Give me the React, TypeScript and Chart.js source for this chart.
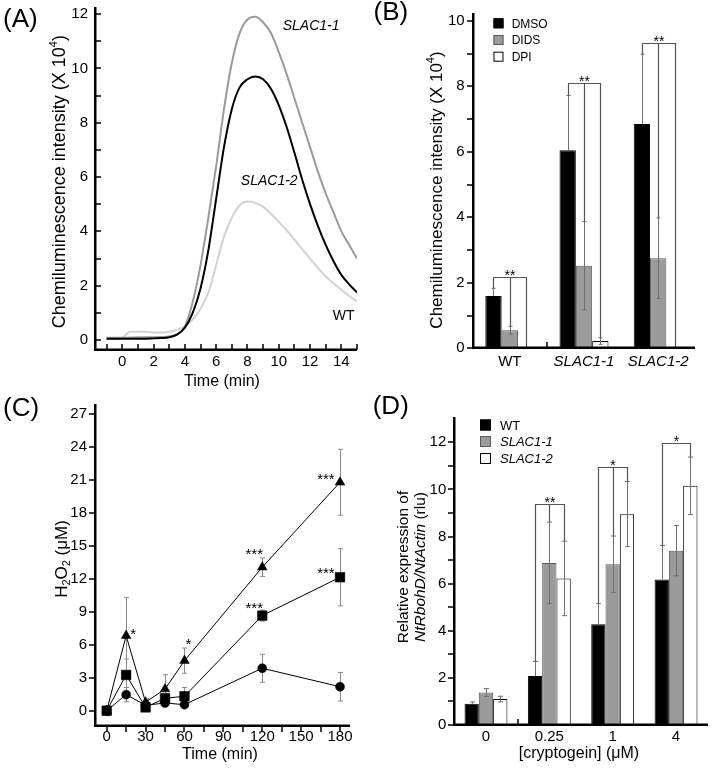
import React, { useEffect, useRef } from 'react';
import { Chart, registerables } from 'chart.js';
Chart.register(...registerables);

const FAMILY = '"Liberation Sans", Arial, Helvetica, sans-serif';
const YW = 40;
const XH = 30;

const PANEL_A = [0, 0, 360, 392];
const PANEL_B = [360, 0, 352, 392];
const PANEL_C = [0, 392, 360, 376];
const PANEL_D = [360, 392, 352, 376];

// ---------- Panel A ----------
const timeMin = [-1, -0.5, 0, 0.5, 1, 1.5, 2, 2.5, 3, 3.5, 4, 4.5, 5, 5.5, 6, 6.5, 7, 7.5, 8, 8.5, 9, 9.5, 10, 10.5, 11, 11.5, 12, 12.5, 13, 13.5, 14, 14.5, 15];
const slac11Curve = [0.08, 0.08, 0.08, 0.09, 0.1, 0.1, 0.1, 0.11, 0.13, 0.22, 0.5, 1.4, 2.75, 4.5, 6.4, 8.5, 10.2, 11.3, 11.8, 11.9, 11.7, 11.3, 10.6, 9.8, 8.9, 8.0, 7.1, 6.2, 5.4, 4.7, 4.0, 3.5, 3.0];
const slac12Curve = [0.05, 0.05, 0.05, 0.05, 0.05, 0.05, 0.06, 0.07, 0.1, 0.2, 0.45, 1.0, 1.9, 3.3, 5.2, 7.1, 8.5, 9.3, 9.6, 9.7, 9.6, 9.25, 8.65, 7.85, 6.9, 5.9, 5.0, 4.2, 3.5, 2.9, 2.4, 2.05, 1.75];
const wtCurve = [0.05, 0.05, 0.08, 0.3, 0.3, 0.3, 0.28, 0.28, 0.3, 0.38, 0.5, 0.75, 1.15, 1.75, 2.75, 3.8, 4.5, 4.95, 5.1, 5.05, 4.9, 4.65, 4.35, 4.05, 3.7, 3.35, 3.0, 2.65, 2.35, 2.08, 1.85, 1.62, 1.42];
const aCurveLabels = ['SLAC1-1', 'SLAC1-2', 'WT'];
const aCurveLabelX = [12.07, 9.39, 14.15];
const aCurveLabelY = [11.6, 5.89, 0.92];
const aXLabelTicks = [0, 2, 4, 6, 8, 10, 12, 14];
const aXTickMarks = [-1, 0, 1, 2, 3, 4, 5, 6, 7, 8, 9, 10, 11, 12, 13, 14, 15];
const aYLabelTicks = [0, 2, 4, 6, 8, 10, 12];
const aYTickMarks = [0, 1, 2, 3, 4, 5, 6, 7, 8, 9, 10, 11, 12];

// ---------- Panel B ----------
const bCategories = ['WT', 'SLAC1-1', 'SLAC1-2'];
const bDMSO = [1.6, 6.05, 6.85];
const bDMSOErr = [0.23, 1.67, 2.13];
const bDIDS = [0.55, 2.52, 2.75];
const bDIDSErr = [0.12, 1.35, 1.23];
const bDPI = [0, 0.22, 0];
const bDPIErr = [0, 0.1, 0];
const bBracketGroups = [0, 1, 2];
const bBracketHeights = [2.18, 8.09, 9.31];
const bBracketStars = ['**', '**', '**'];
const bYLabelTicks = [0, 2, 4, 6, 8, 10];
const bYTickMarks = [0, 1, 2, 3, 4, 5, 6, 7, 8, 9, 10];

// ---------- Panel C ----------
const h2o2Time = [0, 15, 30, 45, 60, 120, 180];
const h2o2Triangle = [0, 6.83, 0.77, 1.97, 4.55, 13.05, 20.78];
const h2o2TriangleErr = [0.3, 3.45, 0.3, 1.3, 1.15, 0.85, 3.0];
const h2o2Square = [0, 3.25, 0.3, 1.13, 1.31, 8.65, 12.14];
const h2o2SquareErr = [0.3, 1.45, 0.3, 0.4, 0.8, 0.5, 2.6];
const h2o2Circle = [0, 1.46, 0.5, 0.7, 0.55, 3.86, 2.18];
const h2o2CircleErr = [0.45, 0.65, 0.3, 0.3, 0.2, 1.27, 1.3];
const cStarText = ['*', '*', '***', '***', '***', '***'];
const cStarX = [20.5, 63, 113.8, 113.8, 169.1, 169.1];
const cStarY = [7.3, 6.4, 14.56, 9.71, 21.38, 12.9];
const cXLabelTicks = [0, 30, 60, 90, 120, 150, 180];
const cXTickMarks = [0, 15, 30, 45, 60, 75, 90, 105, 120, 135, 150, 165, 180];
const cYLabelTicks = [0, 3, 6, 9, 12, 15, 18, 21, 24, 27];

// ---------- Panel D ----------
const dCategories = ['0', '0.25', '1', '4'];
const dWT = [0.9, 2.08, 4.28, 6.18];
const dWTErr = [0.08, 0.62, 0.87, 1.44];
const dSLAC11 = [1.38, 6.88, 6.82, 7.4];
const dSLAC11Err = [0.17, 1.73, 1.2, 1.07];
const dSLAC12 = [1.1, 6.22, 8.95, 10.15];
const dSLAC12Err = [0.12, 1.58, 1.38, 1.22];
const dBracketGroups = [1, 2, 3];
const dBracketHeights = [9.4, 10.95, 11.95];
const dBracketStars = ['**', '*', '*'];
const dBracketMiddle = [true, true, false];
const dYLabelTicks = [0, 2, 4, 6, 8, 10, 12];
const dYTickMarks = [0, 1, 2, 3, 4, 5, 6, 7, 8, 9, 10, 11, 12];

// ---------- helpers ----------
type Seg = { t: string; size: number; italic?: boolean; dy?: number };

function fontStr(size: number, italic?: boolean) {
  return `${italic ? 'italic ' : ''}${size}px ${FAMILY}`;
}

function richText(ctx: CanvasRenderingContext2D, segs: Seg[], cx: number, cy: number, rotated: boolean, baseSize: number) {
  ctx.save();
  ctx.translate(cx, cy);
  if (rotated) ctx.rotate(-Math.PI / 2);
  ctx.fillStyle = '#000';
  ctx.textAlign = 'left';
  ctx.textBaseline = 'alphabetic';
  let total = 0;
  const ws = segs.map((s) => {
    ctx.font = fontStr(s.size, s.italic);
    const w = ctx.measureText(s.t).width;
    total += w;
    return w;
  });
  let x = -total / 2;
  const base = baseSize * 0.36;
  segs.forEach((s, i) => {
    ctx.font = fontStr(s.size, s.italic);
    ctx.fillText(s.t, x, base + (s.dy || 0));
    x += ws[i];
  });
  ctx.restore();
}

function panelLetter(ctx: CanvasRenderingContext2D, text: string, x: number, baseline: number) {
  ctx.save();
  ctx.fillStyle = '#000';
  ctx.font = fontStr(26);
  ctx.textAlign = 'left';
  ctx.textBaseline = 'alphabetic';
  ctx.fillText(text, x, baseline);
  ctx.restore();
}

function pageSpace(chart: any, panel: number[], fn: (ctx: CanvasRenderingContext2D) => void) {
  const ctx: CanvasRenderingContext2D = chart.ctx;
  ctx.save();
  ctx.translate(-panel[0], -panel[1]);
  fn(ctx);
  ctx.restore();
}

// axis lines: drawn last, fully opaque, straddling the chart-area edges
function axisLines(chart: any) {
  const a = chart.chartArea;
  const ctx: CanvasRenderingContext2D = chart.ctx;
  ctx.save();
  ctx.setTransform(1, 0, 0, 1, 0, 0);
  ctx.globalAlpha = 1;
  ctx.globalCompositeOperation = 'source-over';
  ctx.shadowColor = 'rgba(0,0,0,0)';
  ctx.filter = 'none';
  ctx.fillStyle = 'rgb(0,0,0)';
  const L = Math.round(a.left);
  const R = Math.round(a.right);
  const T = Math.round(a.top);
  const B = Math.round(a.bottom);
  ctx.fillRect(L - 1, T, 2.5, B - T + 1);
  ctx.fillRect(L - 1, B - 1.5, R - L + 1, 2.5);
  ctx.strokeStyle = 'rgb(0,0,0)';
  ctx.lineWidth = 2;
  ctx.setLineDash([]);
  ctx.beginPath();
  ctx.moveTo(L, T);
  ctx.lineTo(L, B);
  ctx.lineTo(R, B);
  ctx.stroke();
  ctx.restore();
}

function tickMarks(chart: any, axis: 'x' | 'y', values: number[], dir: 'in' | 'out', len = 6) {
  const scale = chart.scales[axis];
  const a = chart.chartArea;
  const ctx: CanvasRenderingContext2D = chart.ctx;
  ctx.save();
  ctx.fillStyle = '#000';
  values.forEach((v) => {
    const p = Math.round(scale.getPixelForValue(v));
    if (axis === 'x') {
      const y0 = Math.round(a.bottom);
      if (dir === 'in') ctx.fillRect(p - 0.75, y0 - len, 1.5, len);
      else ctx.fillRect(p - 0.75, y0, 1.5, len);
    } else {
      const x0 = Math.round(a.left);
      if (dir === 'in') ctx.fillRect(x0, p - 0.75, len, 1.5);
      else ctx.fillRect(x0 - len, p - 0.75, len, 1.5);
    }
  });
  ctx.restore();
}

function categoryBoundaryTick(chart: any, i: number, len = 6) {
  const scale = chart.scales.x;
  const a = chart.chartArea;
  const ctx: CanvasRenderingContext2D = chart.ctx;
  const p = Math.round((scale.getPixelForValue(i) + scale.getPixelForValue(i + 1)) / 2);
  ctx.save();
  ctx.fillStyle = '#000';
  ctx.fillRect(p - 0.75, Math.round(a.bottom) - len, 1.5, len);
  ctx.restore();
}

function barErrors(chart: any, errs: number[][], lowerVisible: boolean[], cap: number) {
  const y = chart.scales.y;
  const ctx: CanvasRenderingContext2D = chart.ctx;
  ctx.save();
  ctx.strokeStyle = '#707070';
  ctx.lineWidth = 1;
  errs.forEach((errArr, di) => {
    const ds = chart.data.datasets[di];
    const meta = chart.getDatasetMeta(di);
    meta.data.forEach((bar: any, i: number) => {
      const v = ds.data[i] as number;
      const e = errArr[i];
      if (!e) return;
      const x = Math.round(bar.x) + 0.5;
      const yt = y.getPixelForValue(v + e);
      const yb = lowerVisible[di] ? y.getPixelForValue(v - e) : y.getPixelForValue(v);
      ctx.beginPath();
      ctx.moveTo(x, yt);
      ctx.lineTo(x, yb);
      ctx.moveTo(x - cap, yt);
      ctx.lineTo(x + cap, yt);
      if (lowerVisible[di]) {
        ctx.moveTo(x - cap, yb);
        ctx.lineTo(x + cap, yb);
      }
      ctx.stroke();
    });
  });
  ctx.restore();
}

function brackets(chart: any, errs: number[][], groups: number[], heights: number[], stars: string[], middle: boolean[]) {
  const y = chart.scales.y;
  const ctx: CanvasRenderingContext2D = chart.ctx;
  ctx.save();
  ctx.strokeStyle = '#555';
  ctx.lineWidth = 1.2;
  groups.forEach((g, k) => {
    const yb = Math.round(y.getPixelForValue(heights[k])) + 0.5;
    const xs: number[] = [];
    const froms: number[] = [];
    [0, 1, 2].forEach((di) => {
      const meta = chart.getDatasetMeta(di);
      const bar = meta.data[g];
      xs.push(Math.round(bar.x) + 0.5);
      const v = chart.data.datasets[di].data[g] as number;
      froms.push(y.getPixelForValue(v + errs[di][g]));
    });
    ctx.beginPath();
    ctx.moveTo(xs[0], froms[0]);
    ctx.lineTo(xs[0], yb);
    ctx.lineTo(xs[2], yb);
    ctx.lineTo(xs[2], froms[2]);
    if (middle[k]) {
      ctx.moveTo(xs[1], yb);
      ctx.lineTo(xs[1], froms[1]);
    }
    ctx.stroke();
    ctx.fillStyle = '#000';
    ctx.font = fontStr(14);
    ctx.textAlign = 'center';
    ctx.textBaseline = 'alphabetic';
    ctx.fillText(stars[k], (xs[0] + xs[2]) / 2, yb + 2.5);
  });
  ctx.restore();
}

function legendBoxes(ctx: CanvasRenderingContext2D, chart: any, x: number, ys: number[], box: number, textX: number, size: number, italics: boolean[]) {
  ctx.save();
  ys.forEach((cy, i) => {
    const ds = chart.data.datasets[i];
    ctx.fillStyle = ds.backgroundColor;
    ctx.fillRect(x, cy - box / 2, box, box);
    ctx.strokeStyle = ds.borderColor;
    ctx.lineWidth = 1;
    ctx.strokeRect(x + 0.5, cy - box / 2 + 0.5, box - 1, box - 1);
    ctx.fillStyle = '#000';
    ctx.font = fontStr(size, italics[i]);
    ctx.textAlign = 'left';
    ctx.textBaseline = 'alphabetic';
    ctx.fillText(ds.label, textX, cy + size * 0.36);
  });
  ctx.restore();
}

function pad(panel: number[], L: number, R: number, T: number, B: number) {
  const [ox, oy, w, h] = panel;
  return { left: L - ox - YW, right: ox + w - R, top: T - oy, bottom: oy + h - B - XH };
}

function fixX(s: any) {
  s.height = XH;
  s.paddingLeft = 0; s.paddingRight = 0; s.paddingTop = 0; s.paddingBottom = 0;
}
function fixY(s: any) {
  s.width = YW;
  s.paddingLeft = 0; s.paddingRight = 0; s.paddingTop = 0; s.paddingBottom = 0;
}
function setTicks(vals: number[]) {
  return (s: any) => {
    s.ticks = vals.map((v) => ({ value: v }));
  };
}

function tickFont() {
  return { family: FAMILY, size: 15 };
}
function gridCfg() {
  return { display: false, drawTicks: false, tickLength: 0 };
}

function linearAxis(min: number, max: number, labels: number[], horizontal: boolean, padding: number) {
  return {
    type: 'linear',
    min,
    max,
    afterBuildTicks: setTicks(labels),
    afterFit: horizontal ? fixX : fixY,
    grid: gridCfg(),
    border: { display: false },
    ticks: { padding, font: tickFont(), color: '#000', autoSkip: false, maxRotation: 0, minRotation: 0 },
  };
}

function baseOpts() {
  return {
    animation: false,
    responsive: false,
    maintainAspectRatio: false,
    events: [],
    plugins: { legend: { display: false }, tooltip: { enabled: false } },
  };
}

// ---------- configs ----------
function configA(): any {
  const mk = (label: string, vals: number[], color: string) => ({
    label,
    data: timeMin.map((x, i) => ({ x, y: vals[i] })),
    borderColor: color,
    borderWidth: 2,
    pointRadius: 0,
    cubicInterpolationMode: 'monotone',
    fill: false,
  });
  return {
    type: 'line',
    data: {
      datasets: [mk('SLAC1-2', slac12Curve, '#000000'), mk('SLAC1-1', slac11Curve, '#9a9a9a'), mk('WT', wtCurve, '#d2d2d2')],
    },
    options: {
      ...baseOpts(),
      layout: { padding: pad(PANEL_A, 95, 357, 7, 350) },
      scales: {
        x: linearAxis(-1.742, 15, aXLabelTicks, true, 3),
        y: linearAxis(-0.368, 12.26, aYLabelTicks, false, 7),
      },
    },
    plugins: [
      {
        id: 'panelA',
        afterDraw(chart: any) {
          const ctx = chart.ctx as CanvasRenderingContext2D;
          const xs = chart.scales.x;
          const ys = chart.scales.y;
          aCurveLabels.forEach((t, i) => {
            ctx.save();
            ctx.fillStyle = '#000';
            ctx.font = fontStr(14, t !== 'WT');
            ctx.textAlign = 'center';
            ctx.textBaseline = 'alphabetic';
            ctx.fillText(t, xs.getPixelForValue(aCurveLabelX[i]), ys.getPixelForValue(aCurveLabelY[i]) + 5);
            ctx.restore();
          });
          pageSpace(chart, PANEL_A, (c) => {
            richText(c, [{ t: 'Chemiluminescence intensity (X 10', size: 18 }, { t: '4', size: 11, dy: -8 }, { t: ')', size: 18 }], 58.3, 181.7, true, 18);
            richText(c, [{ t: 'Time (min)', size: 16 }], 222, 380, false, 16);
            panelLetter(c, '(A)', 3, 26.5);
          });
          tickMarks(chart, 'x', aXTickMarks, 'in');
          tickMarks(chart, 'y', aYTickMarks, 'in');
          axisLines(chart);
        },
      },
    ],
  };
}

function configB(): any {
  const errs = [bDMSOErr, bDIDSErr, bDPIErr];
  return {
    type: 'bar',
    data: {
      labels: bCategories,
      datasets: [
        { label: 'DMSO', data: bDMSO, backgroundColor: '#000000', borderColor: '#000000', borderWidth: 1 },
        { label: 'DIDS', data: bDIDS, backgroundColor: '#9b9b9b', borderColor: '#5a5a5a', borderWidth: 1 },
        { label: 'DPI', data: bDPI, backgroundColor: '#ffffff', borderColor: '#000000', borderWidth: 1 },
      ],
    },
    options: {
      ...baseOpts(),
      categoryPercentage: 0.66,
      barPercentage: 1,
      layout: { padding: pad(PANEL_B, 472.7, 695.3, 13.3, 348.3) },
      scales: {
        x: {
          type: 'category',
          offset: true,
          afterFit: fixX,
          grid: gridCfg(),
          border: { display: false },
          ticks: {
            padding: 5,
            color: '#000',
            autoSkip: false,
            maxRotation: 0,
            font: (c: any) => ({ family: FAMILY, size: 15, style: String(bCategories[c.index] || '').startsWith('SLAC') ? 'italic' : 'normal' }),
          },
        },
        y: linearAxis(0, 10.23, bYLabelTicks, false, 8),
      },
    },
    plugins: [
      {
        id: 'panelB',
        afterDraw(chart: any) {
          barErrors(chart, errs, [false, true, true], 2);
          brackets(chart, errs, bBracketGroups, bBracketHeights, bBracketStars, [true, true, true]);
          pageSpace(chart, PANEL_B, (c) => {
            legendBoxes(c, chart, 493.5, [23.3, 40, 56.7], 10, 511.7, 12, [false, false, false]);
            richText(c, [{ t: 'Chemiluminescence intensity (X 10', size: 17 }, { t: '4', size: 11, dy: -8 }, { t: ')', size: 17 }], 436.3, 190, true, 17);
            panelLetter(c, '(B)', 373.5, 20);
          });
          tickMarks(chart, 'y', bYTickMarks, 'out');
          categoryBoundaryTick(chart, 0);
          axisLines(chart);
        },
      },
    ],
  };
}

function configC(): any {
  const mk = (label: string, vals: number[], style: string, r: number) => ({
    label,
    data: h2o2Time.map((x, i) => ({ x, y: vals[i] })),
    borderColor: '#000',
    borderWidth: 1,
    pointStyle: style,
    pointRadius: r,
    pointBackgroundColor: '#000',
    pointBorderColor: '#000',
    pointBorderWidth: 0.5,
    tension: 0,
    fill: false,
    clip: false,
  });
  const errs = [h2o2CircleErr, h2o2SquareErr, h2o2TriangleErr];
  return {
    type: 'line',
    data: {
      datasets: [mk('circle', h2o2Circle, 'circle', 4.5), mk('square', h2o2Square, 'rect', 6.8), mk('triangle', h2o2Triangle, 'triangle', 5.6)],
    },
    options: {
      ...baseOpts(),
      layout: { padding: pad(PANEL_C, 95, 350, 404, 725.7) },
      scales: {
        x: linearAxis(-9.03, 187.7, cXLabelTicks, true, 2),
        y: linearAxis(-1.365, 27.9, cYLabelTicks, false, 8),
      },
    },
    plugins: [
      {
        id: 'panelC',
        beforeDatasetsDraw(chart: any) {
          const ctx = chart.ctx as CanvasRenderingContext2D;
          const xs = chart.scales.x;
          const ys = chart.scales.y;
          ctx.save();
          ctx.strokeStyle = '#8a8a8a';
          ctx.lineWidth = 1;
          errs.forEach((errArr, di) => {
            const ds = chart.data.datasets[di];
            ds.data.forEach((p: any, i: number) => {
              const e = errArr[i];
              const x = Math.round(xs.getPixelForValue(p.x)) + 0.5;
              const yt = ys.getPixelForValue(p.y + e);
              const yb = ys.getPixelForValue(p.y - e);
              ctx.beginPath();
              ctx.moveTo(x, yt); ctx.lineTo(x, yb);
              ctx.moveTo(x - 2.5, yt); ctx.lineTo(x + 2.5, yt);
              ctx.moveTo(x - 2.5, yb); ctx.lineTo(x + 2.5, yb);
              ctx.stroke();
            });
          });
          ctx.restore();
        },
        afterDraw(chart: any) {
          const ctx = chart.ctx as CanvasRenderingContext2D;
          const xs = chart.scales.x;
          const ys = chart.scales.y;
          ctx.save();
          ctx.fillStyle = '#000';
          ctx.font = fontStr(15);
          ctx.textAlign = 'center';
          ctx.textBaseline = 'alphabetic';
          cStarText.forEach((t, i) => {
            ctx.fillText(t, xs.getPixelForValue(cStarX[i]), ys.getPixelForValue(cStarY[i]) + 8.7);
          });
          ctx.restore();
          pageSpace(chart, PANEL_C, (c) => {
            richText(c, [{ t: 'H', size: 17 }, { t: '2', size: 11, dy: 3 }, { t: 'O', size: 17 }, { t: '2', size: 11, dy: 3 }, { t: ' (μM)', size: 17 }], 61, 559, true, 17);
            richText(c, [{ t: 'Time (min)', size: 16 }], 220, 753, false, 16);
            panelLetter(c, '(C)', 3, 415.5);
          });
          tickMarks(chart, 'x', cXTickMarks, 'out');
          tickMarks(chart, 'y', cYLabelTicks, 'out');
          axisLines(chart);
        },
      },
    ],
  };
}

function configD(): any {
  const errs = [dWTErr, dSLAC11Err, dSLAC12Err];
  return {
    type: 'bar',
    data: {
      labels: dCategories,
      datasets: [
        { label: 'WT', data: dWT, backgroundColor: '#000000', borderColor: '#000000', borderWidth: 1 },
        { label: 'SLAC1-1', data: dSLAC11, backgroundColor: '#9b9b9b', borderColor: '#5a5a5a', borderWidth: 1 },
        { label: 'SLAC1-2', data: dSLAC12, backgroundColor: '#ffffff', borderColor: '#000000', borderWidth: 1 },
      ],
    },
    options: {
      ...baseOpts(),
      categoryPercentage: 0.677,
      barPercentage: 1,
      layout: { padding: pad(PANEL_D, 454.3, 707.7, 417.3, 725) },
      scales: {
        x: {
          type: 'category',
          offset: true,
          afterFit: fixX,
          grid: gridCfg(),
          border: { display: false },
          ticks: { padding: 3, color: '#000', autoSkip: false, maxRotation: 0, font: tickFont() },
        },
        y: linearAxis(0, 13.06, dYLabelTicks, false, 8),
      },
    },
    plugins: [
      {
        id: 'panelD',
        afterDraw(chart: any) {
          barErrors(chart, errs, [false, true, true], 2.5);
          brackets(chart, errs, dBracketGroups, dBracketHeights, dBracketStars, dBracketMiddle);
          pageSpace(chart, PANEL_D, (c) => {
            legendBoxes(c, chart, 480, [425, 441.5, 458.5], 11, 500, 13, [false, true, true]);
            richText(c, [{ t: 'Relative expression of', size: 15.5 }], 402, 567, true, 15.5);
            richText(c, [{ t: 'NtRbohD/NtActin', size: 15.5, italic: true }, { t: ' (rlu)', size: 15.5 }], 419, 567, true, 15.5);
            richText(c, [{ t: '[cryptogein] (μM)', size: 16 }], 579, 752, false, 16);
            panelLetter(c, '(D)', 372.7, 413.5);
          });
          tickMarks(chart, 'y', dYTickMarks, 'out');
          categoryBoundaryTick(chart, 0);
          axisLines(chart);
        },
      },
    ],
  };
}

function Panel({ box, make }: { box: number[]; make: () => any }) {
  const ref = useRef<HTMLCanvasElement>(null);
  useEffect(() => {
    const chart = new Chart(ref.current as HTMLCanvasElement, make());
    return () => chart.destroy();
  }, []);
  return (
    <canvas
      ref={ref}
      width={box[2]}
      height={box[3]}
      style={{ position: 'absolute', left: box[0], top: box[1], width: box[2], height: box[3], display: 'block' }}
    />
  );
}

export default function App() {
  return (
    <div style={{ position: 'absolute', left: 0, top: 0, width: 712, height: 768, background: '#ffffff' }}>
      <Panel box={PANEL_A} make={configA} />
      <Panel box={PANEL_B} make={configB} />
      <Panel box={PANEL_C} make={configC} />
      <Panel box={PANEL_D} make={configD} />
    </div>
  );
}
